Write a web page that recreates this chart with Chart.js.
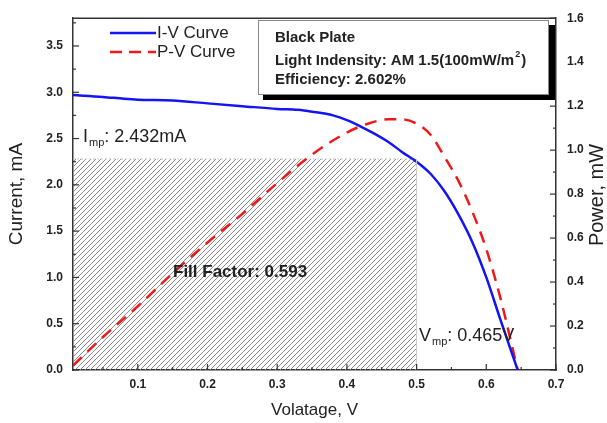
<!DOCTYPE html>
<html>
<head>
<meta charset="utf-8">
<script src="https://cdn.jsdelivr.net/npm/chart.js@4.4.1/dist/chart.umd.min.js"></script>
<style>
  html, body { margin: 0; background: #fff; }
</style>
</head>
<body>
<canvas id="myChart" width="607" height="423"></canvas>
<script>
// I-V curve (current, mA)
const ivVoltage = [0.007, 0.05, 0.08, 0.1, 0.15, 0.2, 0.25, 0.3, 0.33, 0.35, 0.38, 0.4, 0.42, 0.44, 0.46, 0.48, 0.5, 0.52, 0.54, 0.56, 0.58, 0.6, 0.62, 0.645];
const ivCurrent = [2.97, 2.95, 2.93, 2.92, 2.91, 2.88, 2.85, 2.82, 2.81, 2.79, 2.75, 2.7, 2.63, 2.55, 2.46, 2.35, 2.25, 2.12, 1.93, 1.68, 1.38, 1.0, 0.55, 0.0];

// P-V curve (power, mW)
const pvVoltage = [0.007, 0.05, 0.1, 0.15, 0.2, 0.25, 0.3, 0.35, 0.4, 0.43, 0.46, 0.48, 0.5, 0.52, 0.54, 0.56, 0.58, 0.6, 0.62, 0.645];
const pvPower = [0.02, 0.15, 0.29, 0.44, 0.58, 0.71, 0.85, 0.98, 1.08, 1.12, 1.14, 1.14, 1.12, 1.07, 0.97, 0.86, 0.72, 0.55, 0.33, 0.0];

// fill factor rectangle
const fillVoltage = [0.007, 0.5];
const fillCurrent = [2.28, 2.28];

// ticks
const xTicks = [0.1, 0.2, 0.3, 0.4, 0.5, 0.6, 0.7];
const xMinor = [0.05, 0.15, 0.25, 0.35, 0.45, 0.55, 0.65];
const currentTicks = [0, 0.5, 1, 1.5, 2, 2.5, 3, 3.5];
const currentMinor = [0.25, 0.75, 1.25, 1.75, 2.25, 2.75, 3.25, 3.75];
const powerTicks = [0, 0.2, 0.4, 0.6, 0.8, 1, 1.2, 1.4, 1.6];
const powerMinor = [0.1, 0.3, 0.5, 0.7, 0.9, 1.1, 1.3, 1.5];

const FONT = "'Liberation Sans', Arial, sans-serif";
const BLUE = "rgb(20, 20, 245)";
const RED = "rgb(240, 25, 25)";
const FRAME = "#333";
const TEXT = "#222";

// diagonal hatch pattern
let makeHatch = () => {
    let c = document.createElement("canvas");
    c.width = 5;
    c.height = 5;
    let g = c.getContext("2d");
    g.strokeStyle = "#8a8a8a";
    g.lineWidth = 1;
    g.beginPath();
    g.moveTo(-1, 6); g.lineTo(6, -1);
    g.moveTo(-1, 1); g.lineTo(1, -1);
    g.moveTo(4, 6); g.lineTo(6, 4);
    g.stroke();
    return g.createPattern(c, "repeat");
};

let setTicks = list => scale => {
    scale.ticks = list.map(v => ({ value: v }));
};

let drawTickMarks = (ctx, scale, values, len) => {
    values.forEach(v => {
        let p = scale.getPixelForValue(v);
        ctx.beginPath();
        if (scale.axis === "x") {
            ctx.moveTo(p, scale.top);
            ctx.lineTo(p, scale.top - len);
        } else if (scale.position === "left") {
            ctx.moveTo(scale.right, p);
            ctx.lineTo(scale.right + len, p);
        } else {
            ctx.moveTo(scale.left, p);
            ctx.lineTo(scale.left - len, p);
        }
        ctx.stroke();
    });
};

let subText = (ctx, x, y, main, sub, rest, size) => {
    ctx.font = size + "px " + FONT;
    ctx.fillText(main, x, y);
    x += ctx.measureText(main).width + 1;
    ctx.font = Math.round(size * 0.6) + "px " + FONT;
    ctx.fillText(sub, x, y + 6);
    x += ctx.measureText(sub).width;
    ctx.font = size + "px " + FONT;
    ctx.fillText(rest, x, y);
};

const extras = {
    id: "extras",
    afterDraw(chart) {
        let ctx = chart.ctx,
            area = chart.chartArea,
            s = chart.scales;
        ctx.save();

        // right edge of the fill factor box
        ctx.strokeStyle = "#c8c8c8";
        ctx.lineWidth = 1;
        ctx.beginPath();
        ctx.moveTo(s.x.getPixelForValue(fillVoltage[1]), s.y.getPixelForValue(fillCurrent[1]));
        ctx.lineTo(s.x.getPixelForValue(fillVoltage[1]), s.y.getPixelForValue(0));
        ctx.stroke();

        // frame top
        ctx.strokeStyle = FRAME;
        ctx.lineWidth = 1.5;
        ctx.beginPath();
        ctx.moveTo(area.left, area.top);
        ctx.lineTo(area.right, area.top);
        ctx.stroke();

        // inward ticks
        ctx.lineWidth = 1.2;
        drawTickMarks(ctx, s.x, xTicks, 6);
        drawTickMarks(ctx, s.x, xMinor, 3);
        drawTickMarks(ctx, s.y, currentTicks, 6);
        drawTickMarks(ctx, s.y, currentMinor, 3);
        drawTickMarks(ctx, s.y2, powerTicks, 6);
        drawTickMarks(ctx, s.y2, powerMinor, 3);

        // right axis title
        ctx.fillStyle = TEXT;
        ctx.font = "20px " + FONT;
        ctx.textAlign = "center";
        ctx.textBaseline = "middle";
        ctx.translate(597, 195);
        ctx.rotate(-Math.PI / 2);
        ctx.fillText("Power, mW", 0, 0);
        ctx.setTransform(1, 0, 0, 1, 0, 0);

        // legend
        ctx.lineWidth = 2.5;
        ctx.strokeStyle = BLUE;
        ctx.beginPath();
        ctx.moveTo(110, 33); ctx.lineTo(156, 33);
        ctx.stroke();
        ctx.strokeStyle = RED;
        ctx.setLineDash([12, 7]);
        ctx.beginPath();
        ctx.moveTo(110, 52); ctx.lineTo(156, 52);
        ctx.stroke();
        ctx.setLineDash([]);
        ctx.fillStyle = TEXT;
        ctx.textAlign = "left";
        ctx.font = "17px " + FONT;
        ctx.fillText("I-V Curve", 157, 33);
        ctx.fillText("P-V Curve", 157, 52);

        // info box with shadow
        ctx.fillStyle = "#000";
        ctx.fillRect(263, 25, 292, 75);
        ctx.fillStyle = "#fff";
        ctx.fillRect(258, 20, 291, 75);
        ctx.strokeStyle = "#888";
        ctx.lineWidth = 1;
        ctx.strokeRect(258.5, 20.5, 290, 74);
        ctx.fillStyle = TEXT;
        ctx.font = "bold 15px " + FONT;
        ctx.fillText("Black Plate", 275, 38);
        let line = "Light Indensity: AM 1.5(100mW/m";
        ctx.fillText(line, 275, 61);
        let w = ctx.measureText(line).width;
        ctx.font = "bold 9px " + FONT;
        ctx.fillText("2", 276 + w, 55);
        ctx.font = "bold 15px " + FONT;
        ctx.fillText(")", 276 + w + 6, 61);
        ctx.fillText("Efficiency: 2.602%", 275, 80);

        // annotations
        ctx.fillStyle = TEXT;
        subText(ctx, 83, 137, "I", "mp", ": 2.432mA", 18);
        ctx.font = "bold 17px " + FONT;
        ctx.fillText("Fill Factor: 0.593", 173, 272);
        subText(ctx, 419, 336, "V", "mp", ": 0.465V", 18);

        ctx.restore();
    }
};

const data = {
    datasets: [
        {
            label: "I-V Curve",
            data: ivVoltage.map((v, i) => ({ x: v, y: ivCurrent[i] })),
            yAxisID: "y",
            borderColor: BLUE,
            borderWidth: 2.5,
            pointRadius: 0,
            cubicInterpolationMode: "monotone",
            fill: false
        },
        {
            label: "P-V Curve",
            data: pvVoltage.map((v, i) => ({ x: v, y: pvPower[i] })),
            yAxisID: "y2",
            borderColor: RED,
            borderWidth: 2.5,
            borderDash: [12, 8],
            pointRadius: 0,
            cubicInterpolationMode: "monotone",
            fill: false
        },
        {
            label: "Fill Factor",
            data: fillVoltage.map((v, i) => ({ x: v, y: fillCurrent[i] })),
            yAxisID: "y",
            borderColor: "#c8c8c8",
            borderWidth: 1,
            borderDash: [2, 2],
            backgroundColor: makeHatch(),
            pointRadius: 0,
            fill: "origin"
        }
    ]
};

const tickFont = { family: FONT, size: 12, weight: "bold" };

const config = {
    type: "line",
    data: data,
    plugins: [extras],
    options: {
        responsive: false,
        animation: false,
        layout: { padding: { top: 15, left: 0, right: 0, bottom: 0 } },
        plugins: { legend: { display: false }, tooltip: { enabled: false } },
        scales: {
            x: {
                type: "linear",
                min: 0.007,
                max: 0.7,
                afterBuildTicks: setTicks(xTicks),
                afterFit: scale => { scale.height = 53; },
                grid: { display: false, drawTicks: false },
                border: { display: true, color: FRAME, width: 1.5 },
                ticks: { font: tickFont, color: TEXT, padding: 7, maxRotation: 0, callback: v => v.toFixed(1) },
                title: { display: true, text: "Volatage, V", font: { family: FONT, size: 17 }, color: TEXT, padding: { top: 0, bottom: 2 } }
            },
            y: {
                position: "left",
                min: 0,
                max: 3.8,
                afterBuildTicks: setTicks(currentTicks),
                afterFit: scale => { scale.width = 73; },
                grid: { display: false, drawTicks: false },
                border: { display: true, color: FRAME, width: 1.5 },
                ticks: { font: tickFont, color: TEXT, padding: 10, callback: v => v.toFixed(1) },
                title: { display: true, text: "Current, mA", font: { family: FONT, size: 19 }, color: TEXT, padding: { top: 5, bottom: 0 } }
            },
            y2: {
                position: "right",
                min: 0,
                max: 1.6,
                afterBuildTicks: setTicks(powerTicks),
                afterFit: scale => { scale.width = 51; },
                grid: { display: false, drawTicks: false },
                border: { display: true, color: FRAME, width: 1.5 },
                ticks: { font: tickFont, color: TEXT, padding: 11, callback: v => v.toFixed(1) }
            }
        }
    }
};

var myChart = new Chart(document.getElementById("myChart"), config);
</script>
</body>
</html>
